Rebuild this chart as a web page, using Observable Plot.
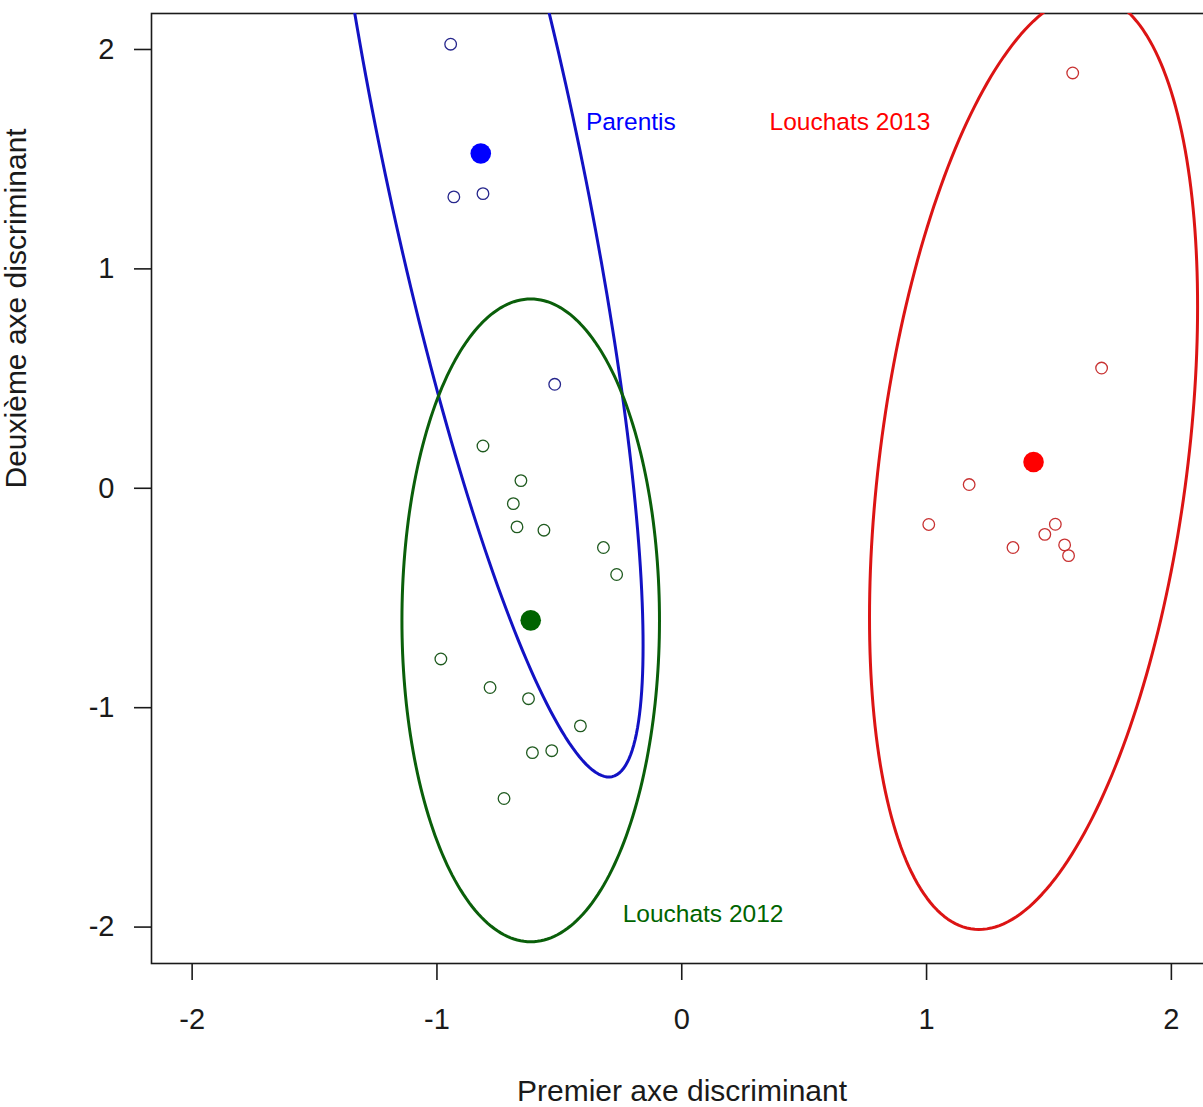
<!DOCTYPE html>
<html>
<head>
<meta charset="utf-8">
<script src="https://cdn.jsdelivr.net/npm/d3@7"></script>
<script src="https://cdn.jsdelivr.net/npm/@observablehq/plot@0.6"></script>
<style>
html, body { margin: 0; padding: 0; background: #fff; overflow: hidden; }
#chart svg { display: block; max-width: none !important; width: 1212px; height: 1107px; }
</style>
</head>
<body>
<div id="chart"></div>
<script>
// ---- Data ----
const groups = ["Parentis", "Louchats 2012", "Louchats 2013"];
const groupColors = ["#0000ff", "#006400", "#ff0000"];
const ellipseColors = ["#1212c4", "#0a5f0a", "#dc1414"];
const circleColors = ["#26268c", "#1f5a1f", "#c83232"];

const parentisX = [-0.944, -0.931, -0.812, -0.519];
const parentisY = [2.024, 1.328, 1.343, 0.474];

const louchats2012X = [-0.812, -0.657, -0.688, -0.673, -0.563, -0.320, -0.266, -0.984, -0.783, -0.626, -0.414, -0.610, -0.531, -0.726];
const louchats2012Y = [0.193, 0.035, -0.070, -0.176, -0.191, -0.270, -0.393, -0.778, -0.908, -0.959, -1.083, -1.205, -1.196, -1.414];

const louchats2013X = [1.597, 1.715, 1.174, 1.009, 1.526, 1.483, 1.353, 1.564, 1.580];
const louchats2013Y = [1.893, 0.548, 0.017, -0.165, -0.164, -0.210, -0.270, -0.258, -0.307];

// group centroids (filled dots) and ellipse covariance (sxx, sxy, syy)
const centroidX = [-0.821, -0.617, 1.437];
const centroidY = [1.526, -0.602, 0.120];
const ellipseSxx = [0.4396, 0.2767, 0.449];
const ellipseSxy = [-1.486, 0.0, 0.475];
const ellipseSyy = [8.077, 2.146, 4.541];

// group labels
const labelX = [-0.208, 0.087, 0.687];
const labelY = [1.668, -1.941, 1.668];

const xTicks = [-2, -1, 0, 1, 2];
const yTicks = [-2, -1, 0, 1, 2];
const xTitle = "Premier axe discriminant";
const yTitle = "Deuxième axe discriminant";

// ---- Build tables ----
const seriesX = [parentisX, louchats2012X, louchats2013X];
const seriesY = [parentisY, louchats2012Y, louchats2013Y];
const points = [];
groups.forEach((g, i) => {
  seriesX[i].forEach((x, j) => points.push({group: g, x, y: seriesY[i][j], color: circleColors[i]}));
});
const centroids = groups.map((g, i) => ({group: g, x: centroidX[i], y: centroidY[i], color: groupColors[i]}));
const labels = groups.map((g, i) => ({text: g, x: labelX[i], y: labelY[i], color: groupColors[i]}));

const ellipsePts = [];
groups.forEach((g, i) => {
  const l11 = Math.sqrt(ellipseSxx[i]);
  const l21 = ellipseSxy[i] / l11;
  const l22 = Math.sqrt(ellipseSyy[i] - l21 * l21);
  const n = 240;
  for (let k = 0; k <= n; k++) {
    const t = 2 * Math.PI * k / n;
    ellipsePts.push({
      group: g,
      x: centroidX[i] + l11 * Math.cos(t),
      y: centroidY[i] + l21 * Math.cos(t) + l22 * Math.sin(t),
      color: ellipseColors[i]
    });
  }
});

const chart = Plot.plot({
  width: 1212,
  height: 1107,
  marginTop: 13,
  marginBottom: 144,
  marginLeft: 151,
  marginRight: 0,
  style: {fontFamily: "'Liberation Sans', Arial, sans-serif", fontSize: "29px", color: "#1a1a1a", background: "#fff", overflow: "visible", maxWidth: "none"},
  x: {domain: [-2.166, 2.168]},
  y: {domain: [-2.166, 2.164]},
  color: {type: "identity"},
  marks: [
    Plot.frame({stroke: "#1a1a1a", strokeWidth: 1.6}),
    Plot.axisX({ticks: xTicks, tickSize: 17, tickPadding: 28, label: null, fontSize: 29, strokeWidth: 1.6, tickFormat: d => String(d).replace("−", "-")}),
    Plot.axisY({ticks: yTicks, tickSize: 17, tickPadding: 20, label: null, fontSize: 29, strokeWidth: 1.6, tickFormat: d => String(d).replace("−", "-")}),
    Plot.line(ellipsePts, {x: "x", y: "y", z: "group", stroke: "color", strokeWidth: 3, clip: true}),
    Plot.dot(points, {x: "x", y: "y", r: 5.8, stroke: "color", fill: "none", strokeWidth: 1.3, clip: true}),
    Plot.dot(centroids, {x: "x", y: "y", r: 10.3, fill: "color", stroke: "none"}),
    Plot.text(labels, {x: "x", y: "y", text: "text", fill: "color", fontSize: 24.5, textAnchor: "middle", lineAnchor: "middle"}),
    Plot.text([xTitle], {frameAnchor: "bottom", dy: 137, lineAnchor: "bottom", fontSize: 30, fill: "#1a1a1a"}),
    Plot.text([yTitle], {frameAnchor: "left", dx: -126, rotate: -90, lineAnchor: "bottom", fontSize: 30, fill: "#1a1a1a"})
  ]
});
document.getElementById("chart").appendChild(chart);
</script>
</body>
</html>
